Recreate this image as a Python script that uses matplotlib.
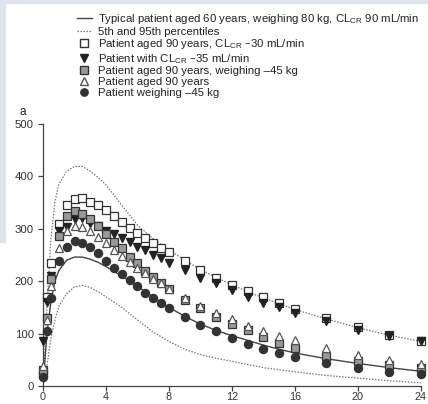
import numpy as np
import matplotlib.pyplot as plt
from matplotlib.lines import Line2D
from matplotlib.patches import Rectangle

# model curves
t_curve = [0, 0.25, 0.5, 0.75, 1, 1.5, 2, 2.5, 3, 3.5, 4, 5, 6, 7, 8, 9, 10, 11, 12, 13, 14, 15, 16, 18, 20, 22, 24]
typical = [0, 100, 160, 200, 220, 240, 246, 246, 242, 236, 228, 210, 190, 170, 150, 133, 118, 106, 96, 87, 78, 70, 63, 52, 43, 35, 28]
p95 = [0, 150, 280, 350, 385, 410, 419, 419, 410, 398, 384, 345, 307, 281, 260, 240, 222, 207, 193, 180, 168, 157, 146, 128, 111, 97, 85]
p5 = [0, 40, 90, 125, 152, 176, 189, 192, 188, 180, 170, 150, 126, 103, 85, 70, 60, 53, 47, 41, 35, 31, 27, 20, 15, 10, 6]

# simulated patients
t_pts = [0, 0.25, 0.5, 1, 1.5, 2, 2.5, 3, 3.5, 4, 4.5, 5, 5.5, 6, 6.5, 7, 7.5, 8, 9, 10, 11, 12, 13, 14, 15, 16, 18, 20, 22, 24]
age90_cl30 = [25, 170, 235, 310, 345, 357, 358, 352, 345, 335, 325, 313, 302, 292, 282, 273, 264, 256, 238, 222, 207, 193, 181, 169, 158, 147, 129, 112, 97, 85]
cl35 = [85, 160, 210, 295, 304, 318, 320, 312, 305, 296, 290, 282, 275, 266, 260, 250, 244, 234, 221, 207, 196, 183, 170, 159, 150, 140, 124, 107, 95, 85]
age90_wt45 = [30, 130, 205, 287, 325, 334, 329, 318, 306, 291, 275, 263, 247, 234, 219, 208, 196, 186, 165, 148, 132, 118, 106, 94, 82, 72, 57, 48, 40, 34]
age90 = [38, 125, 190, 263, 296, 305, 303, 296, 285, 272, 260, 248, 237, 226, 215, 205, 196, 186, 168, 152, 140, 127, 115, 104, 95, 88, 72, 59, 50, 42]
wt45 = [18, 105, 168, 238, 266, 277, 272, 265, 253, 238, 225, 214, 202, 190, 178, 167, 158, 148, 131, 116, 104, 91, 80, 71, 62, 56, 43, 35, 27, 23]

labels = [
    'Typical patient aged 60 years, weighing 80 kg, CL$_\\mathregular{CR}$ 90 mL/min',
    '5th and 95th percentiles',
    'Patient aged 90 years, CL$_\\mathregular{CR}$ \u201330 mL/min',
    'Patient with CL$_\\mathregular{CR}$ \u201335 mL/min',
    'Patient aged 90 years, weighing \u201345 kg',
    'Patient aged 90 years',
    'Patient weighing \u201345 kg',
]

plt.rcParams['font.family'] = ['Liberation Sans', 'DejaVu Sans']

fig = plt.figure(figsize=(4.28, 4.04), dpi=100)
fig.patches.append(Rectangle((0, 0.992), 1, 0.008, transform=fig.transFigure, color='#dde4ec', zorder=0))
fig.patches.append(Rectangle((0, 0.4), 0.012, 0.6, transform=fig.transFigure, color='#dde4ec', zorder=0))
ax = fig.add_axes([0.1005, 0.0446, 0.883, 0.6484])

dots = (0, (1.2, 1.2))
ax.plot(t_curve, p95, color='#777777', lw=0.9, ls=dots)
ax.plot(t_curve, p5, color='#777777', lw=0.9, ls=dots)
ax.plot(t_curve, typical, '-', color='#444444', lw=1.0)

ms = 5.3
ax.plot(t_pts, age90_cl30, 's', ms=ms, mfc='white', mec='#333333', mew=0.9, ls='none', clip_on=False, zorder=3)
ax.plot(t_pts, cl35, 'v', ms=ms, mfc='#222222', mec='#222222', ls='none', clip_on=False, zorder=4)
ax.plot(t_pts, age90_wt45, 's', ms=ms, mfc='#999999', mec='#333333', mew=0.9, ls='none', clip_on=False, zorder=5)
ax.plot(t_pts, age90, '^', ms=ms, mfc='white', mec='#555555', mew=0.9, ls='none', clip_on=False, zorder=6)
ax.plot(t_pts, wt45, 'o', ms=ms + 0.5, mfc='#333333', mec='#333333', ls='none', clip_on=False, zorder=7)

ax.set_xlim(0, 24)
ax.set_ylim(0, 500)
ax.set_xticks([0, 4, 8, 12, 16, 20, 24])
ax.set_yticks([0, 100, 200, 300, 400, 500])
for s in ['top', 'right']:
    ax.spines[s].set_visible(False)
for s in ['left', 'bottom']:
    ax.spines[s].set_color('#444444')
    ax.spines[s].set_linewidth(0.9)
ax.tick_params(direction='out', length=3.5, width=0.9, color='#444444', labelsize=8.2, labelcolor='#333333', pad=3)
ax.tick_params(axis='x', pad=0.8, labelsize=7.8)

fig.text(0.052, 0.722, 'a', fontsize=8.5, color='#222222', ha='center', va='center')

handles = [
    Line2D([], [], color='#444444', lw=1.0),
    Line2D([], [], color='#777777', lw=0.9, ls=dots),
    Line2D([], [], marker='s', ms=ms, mfc='white', mec='#333333', ls='none'),
    Line2D([], [], marker='v', ms=ms, mfc='#222222', mec='#222222', ls='none'),
    Line2D([], [], marker='s', ms=ms, mfc='#999999', mec='#333333', ls='none'),
    Line2D([], [], marker='^', ms=ms, mfc='white', mec='#555555', ls='none'),
    Line2D([], [], marker='o', ms=ms, mfc='#333333', mec='#333333', ls='none'),
]
fig.legend(handles, labels, loc='upper left', bbox_to_anchor=(0.158, 0.993), frameon=False,
           fontsize=8.2, labelspacing=0.06, handlelength=1.3, handletextpad=0.6, borderpad=0.3,
           labelcolor='#222222')

fig.savefig('out.png', dpi=100)
